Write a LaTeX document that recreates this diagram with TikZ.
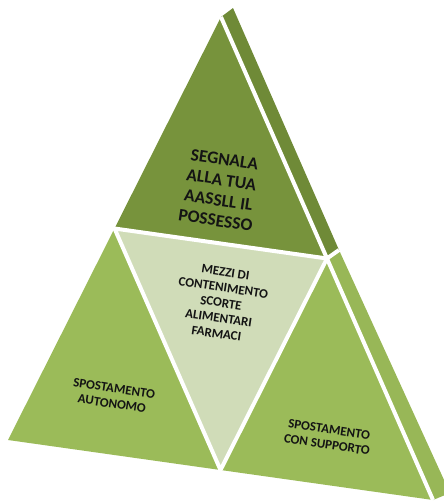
\documentclass[tikz,border=0pt]{standalone}
\usepackage{fontspec}
\setmainfont{Carlito}[BoldFont={Carlito Bold}]
\usetikzlibrary{calc}
\definecolor{topgreen}{HTML}{77933C}
\definecolor{topside}{HTML}{6F8A37}
\definecolor{basegreen}{HTML}{9BBB59}
\definecolor{baseside}{HTML}{98B757}
\definecolor{midgreen}{HTML}{D0DCB8}
\begin{document}
\begin{tikzpicture}[x=1pt,y=-1pt,
  gap/.style={white,line width=4pt},
  bigtxt/.style={font=\bfseries\fontsize{17.5}{20.5}\selectfont,align=center,rotate=-8.5,text=black!92},
  smalltxt/.style={font=\bfseries\fontsize{13}{15.5}\selectfont,align=center,rotate=-8.5,text=black!92}]
\useasboundingbox (0,0) rectangle (444,501);
\clip (0,0) rectangle (444,501);
\coordinate (A) at (221,17);
\coordinate (B) at (8,440);
\coordinate (C) at (433,500);
\coordinate (Ab) at (233,8);
\coordinate (Mb) at (339,250);
\coordinate (Cb) at (450,493);
\coordinate (Mab) at ($(A)!0.5!(B)$);
\coordinate (Mac) at ($(A)!0.5!(C)$);
\coordinate (Mbc) at ($(B)!0.5!(C)$);
% side faces
\fill[topside] (A) -- (Ab) -- (Mb) -- (Mac) -- cycle;
\fill[baseside] (Mac) -- (Mb) -- (Cb) -- (C) -- cycle;
% front faces
\fill[topgreen] (A) -- (Mab) -- (Mac) -- cycle;
\fill[basegreen] (Mab) -- (B) -- (Mbc) -- cycle;
\fill[basegreen] (Mac) -- (Mbc) -- (C) -- cycle;
\fill[midgreen] (Mab) -- (Mac) -- (Mbc) -- cycle;
% white gaps
\draw[gap] (A) -- (C);
\draw[gap] (Mac) -- (Mb);
\draw[gap] (Mab) -- (Mac) -- (Mbc) -- cycle;
% labels
\node[bigtxt] (t1) at (220,190) {SEGNALA\\ALLA TUA\\AASSLL IL\\POSSESSO};
\node[smalltxt] (t2) at (221,303) {MEZZI DI\\CONTENIMENTO\\SCORTE\\ALIMENTARI\\FARMACI};
\node[smalltxt] (t3) at (113,396) {SPOSTAMENTO\\AUTONOMO};
\node[smalltxt] (t4) at (328,437) {SPOSTAMENTO\\CON SUPPORTO};
\end{tikzpicture}
\end{document}
